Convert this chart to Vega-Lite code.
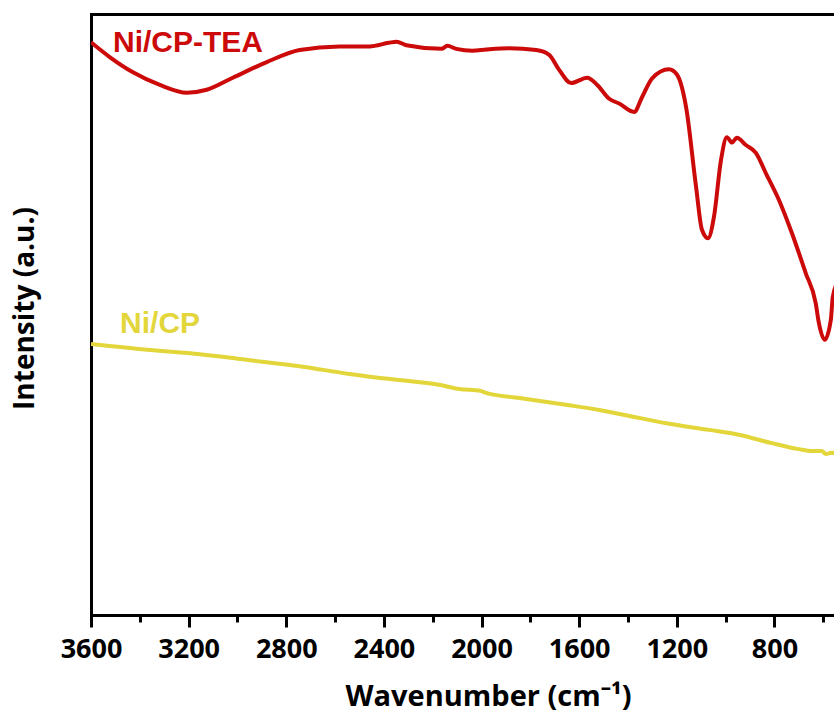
{
  "$schema": "https://vega.github.io/schema/vega-lite/v6.json",
  "width": 743,
  "height": 601,
  "autosize": "none",
  "padding": {"left": 91, "top": 14, "right": 0, "bottom": 102},
  "background": "white",
  "config": {"view": {"stroke": null}},
  "datasets": {
    "spectra": [
      {"series": "Ni/CP-TEA", "wavenumber": 3600, "intensity": 95.3},
      {"series": "Ni/CP-TEA", "wavenumber": 3522, "intensity": 92.8},
      {"series": "Ni/CP-TEA", "wavenumber": 3428, "intensity": 90.3},
      {"series": "Ni/CP-TEA", "wavenumber": 3318, "intensity": 88.2},
      {"series": "Ni/CP-TEA", "wavenumber": 3207, "intensity": 86.9},
      {"series": "Ni/CP-TEA", "wavenumber": 3126, "intensity": 87.4},
      {"series": "Ni/CP-TEA", "wavenumber": 3019, "intensity": 89.4},
      {"series": "Ni/CP-TEA", "wavenumber": 2880, "intensity": 92.0},
      {"series": "Ni/CP-TEA", "wavenumber": 2745, "intensity": 94.0},
      {"series": "Ni/CP-TEA", "wavenumber": 2582, "intensity": 94.6},
      {"series": "Ni/CP-TEA", "wavenumber": 2459, "intensity": 94.6},
      {"series": "Ni/CP-TEA", "wavenumber": 2380, "intensity": 95.2},
      {"series": "Ni/CP-TEA", "wavenumber": 2348, "intensity": 95.4},
      {"series": "Ni/CP-TEA", "wavenumber": 2308, "intensity": 94.8},
      {"series": "Ni/CP-TEA", "wavenumber": 2164, "intensity": 94.2},
      {"series": "Ni/CP-TEA", "wavenumber": 2140, "intensity": 94.7},
      {"series": "Ni/CP-TEA", "wavenumber": 2103, "intensity": 94.2},
      {"series": "Ni/CP-TEA", "wavenumber": 2038, "intensity": 93.9},
      {"series": "Ni/CP-TEA", "wavenumber": 1980, "intensity": 94.1},
      {"series": "Ni/CP-TEA", "wavenumber": 1886, "intensity": 94.3},
      {"series": "Ni/CP-TEA", "wavenumber": 1776, "intensity": 94.0},
      {"series": "Ni/CP-TEA", "wavenumber": 1723, "intensity": 93.2},
      {"series": "Ni/CP-TEA", "wavenumber": 1682, "intensity": 90.7},
      {"series": "Ni/CP-TEA", "wavenumber": 1633, "intensity": 88.5},
      {"series": "Ni/CP-TEA", "wavenumber": 1567, "intensity": 89.4},
      {"series": "Ni/CP-TEA", "wavenumber": 1526, "intensity": 88.2},
      {"series": "Ni/CP-TEA", "wavenumber": 1477, "intensity": 85.9},
      {"series": "Ni/CP-TEA", "wavenumber": 1436, "intensity": 85.1},
      {"series": "Ni/CP-TEA", "wavenumber": 1375, "intensity": 83.7},
      {"series": "Ni/CP-TEA", "wavenumber": 1342, "intensity": 86.2},
      {"series": "Ni/CP-TEA", "wavenumber": 1301, "intensity": 89.3},
      {"series": "Ni/CP-TEA", "wavenumber": 1232, "intensity": 90.8},
      {"series": "Ni/CP-TEA", "wavenumber": 1199, "intensity": 89.9},
      {"series": "Ni/CP-TEA", "wavenumber": 1162, "intensity": 84.5},
      {"series": "Ni/CP-TEA", "wavenumber": 1121, "intensity": 71.2},
      {"series": "Ni/CP-TEA", "wavenumber": 1097, "intensity": 64.1},
      {"series": "Ni/CP-TEA", "wavenumber": 1072, "intensity": 62.7},
      {"series": "Ni/CP-TEA", "wavenumber": 1048, "intensity": 66.2},
      {"series": "Ni/CP-TEA", "wavenumber": 1019, "intensity": 75.7},
      {"series": "Ni/CP-TEA", "wavenumber": 995, "intensity": 79.5},
      {"series": "Ni/CP-TEA", "wavenumber": 974, "intensity": 78.6},
      {"series": "Ni/CP-TEA", "wavenumber": 954, "intensity": 79.4},
      {"series": "Ni/CP-TEA", "wavenumber": 917, "intensity": 78.2},
      {"series": "Ni/CP-TEA", "wavenumber": 876, "intensity": 76.9},
      {"series": "Ni/CP-TEA", "wavenumber": 835, "intensity": 73.5},
      {"series": "Ni/CP-TEA", "wavenumber": 782, "intensity": 69.1},
      {"series": "Ni/CP-TEA", "wavenumber": 729, "intensity": 63.6},
      {"series": "Ni/CP-TEA", "wavenumber": 672, "intensity": 56.9},
      {"series": "Ni/CP-TEA", "wavenumber": 631, "intensity": 51.9},
      {"series": "Ni/CP-TEA", "wavenumber": 618, "intensity": 48.6},
      {"series": "Ni/CP-TEA", "wavenumber": 594, "intensity": 45.8},
      {"series": "Ni/CP-TEA", "wavenumber": 569, "intensity": 49.1},
      {"series": "Ni/CP-TEA", "wavenumber": 561, "intensity": 52.9},
      {"series": "Ni/CP-TEA", "wavenumber": 537, "intensity": 55.7},
      {"series": "Ni/CP", "wavenumber": 3600, "intensity": 45.1},
      {"series": "Ni/CP", "wavenumber": 3359, "intensity": 44.1},
      {"series": "Ni/CP", "wavenumber": 3154, "intensity": 43.4},
      {"series": "Ni/CP", "wavenumber": 2950, "intensity": 42.4},
      {"series": "Ni/CP", "wavenumber": 2745, "intensity": 41.4},
      {"series": "Ni/CP", "wavenumber": 2541, "intensity": 40.1},
      {"series": "Ni/CP", "wavenumber": 2406, "intensity": 39.4},
      {"series": "Ni/CP", "wavenumber": 2357, "intensity": 39.2},
      {"series": "Ni/CP", "wavenumber": 2173, "intensity": 38.3},
      {"series": "Ni/CP", "wavenumber": 2091, "intensity": 37.6},
      {"series": "Ni/CP", "wavenumber": 2005, "intensity": 37.3},
      {"series": "Ni/CP", "wavenumber": 1985, "intensity": 37.0},
      {"series": "Ni/CP", "wavenumber": 1845, "intensity": 36.1},
      {"series": "Ni/CP", "wavenumber": 1641, "intensity": 34.9},
      {"series": "Ni/CP", "wavenumber": 1518, "intensity": 34.1},
      {"series": "Ni/CP", "wavenumber": 1355, "intensity": 32.8},
      {"series": "Ni/CP", "wavenumber": 1244, "intensity": 31.9},
      {"series": "Ni/CP", "wavenumber": 1068, "intensity": 30.8},
      {"series": "Ni/CP", "wavenumber": 946, "intensity": 30.0},
      {"series": "Ni/CP", "wavenumber": 811, "intensity": 28.6},
      {"series": "Ni/CP", "wavenumber": 700, "intensity": 27.6},
      {"series": "Ni/CP", "wavenumber": 647, "intensity": 27.3},
      {"series": "Ni/CP", "wavenumber": 606, "intensity": 27.3},
      {"series": "Ni/CP", "wavenumber": 590, "intensity": 26.8},
      {"series": "Ni/CP", "wavenumber": 565, "intensity": 27.0},
      {"series": "Ni/CP", "wavenumber": 540, "intensity": 26.6}
    ],
    "labels": [
      {"series": "Ni/CP-TEA", "wavenumber": 3510, "intensity": 93.7},
      {"series": "Ni/CP", "wavenumber": 3481, "intensity": 46.9}
    ]
  },
  "resolve": {"axis": {"x": "independent"}},
  "layer": [
    {
      "data": {"name": "spectra"},
      "mark": {"type": "line", "strokeWidth": 4, "clip": true, "strokeJoin": "round", "interpolate": "monotone"},
      "encoding": {
        "x": {
          "field": "wavenumber", "type": "quantitative",
          "scale": {"domain": [3600, 556], "nice": false, "zero": false},
          "axis": {
            "orient": "bottom",
            "values": [3600, 3200, 2800, 2400, 2000, 1600, 1200, 800],
            "format": "d",
            "title": "Wavenumber (cm⁻¹)",
            "titleFont": "Open Sans", "titleFontSize": 29, "titleFontWeight": "bold", "titleColor": "black",
            "titleX": 397, "titleY": 90, "titleBaseline": "alphabetic",
            "labelFont": "Open Sans", "labelFontSize": 27, "labelFontWeight": "bold", "labelColor": "black",
            "labelPadding": 9, "labelFlush": false, "labelOverlap": false,
            "domainColor": "black", "domainWidth": 3, "domainCap": "square",
            "tickColor": "black", "tickWidth": 3, "tickSize": 12,
            "grid": false
          }
        },
        "y": {
          "field": "intensity", "type": "quantitative",
          "scale": {"domain": [0, 100], "nice": false, "zero": false},
          "axis": {
            "title": "Intensity (a.u.)",
            "titleFont": "Open Sans", "titleFontSize": 28, "titleFontWeight": "bold", "titleColor": "black",
            "titleX": -58, "titleY": 294, "titleBaseline": "alphabetic", "titleAngle": -90,
            "labels": false, "ticks": false, "grid": false,
            "domainColor": "black", "domainWidth": 3, "domainCap": "square"
          }
        },
        "color": {
          "field": "series", "type": "nominal",
          "scale": {"domain": ["Ni/CP-TEA", "Ni/CP"], "range": ["#cc0a0a", "#e2d63a"]},
          "legend": null
        }
      }
    },
    {
      "data": {"name": "labels"},
      "mark": {"type": "text", "font": "Liberation Sans", "fontSize": 30, "fontWeight": "bold", "align": "left", "baseline": "alphabetic"},
      "encoding": {
        "x": {
          "field": "wavenumber", "type": "quantitative",
          "scale": {"domain": [3600, 556], "nice": false, "zero": false},
          "axis": {
            "orient": "bottom",
            "values": [3400, 3000, 2600, 2200, 1800, 1400, 1000, 600],
            "labels": false, "domain": false, "title": null, "grid": false,
            "tickColor": "black", "tickWidth": 3, "tickSize": 7
          }
        },
        "y": {"field": "intensity", "type": "quantitative", "scale": {"domain": [0, 100], "nice": false, "zero": false}},
        "text": {"field": "series"},
        "color": {
          "field": "series", "type": "nominal",
          "scale": {"domain": ["Ni/CP-TEA", "Ni/CP"], "range": ["#cc0a0a", "#e2d63a"]},
          "legend": null
        }
      }
    },
    {
      "data": {"name": "labels"},
      "mark": {"type": "point", "opacity": 0},
      "encoding": {
        "x": {
          "field": "wavenumber", "type": "quantitative",
          "scale": {"domain": [3600, 556], "nice": false, "zero": false},
          "axis": {
            "orient": "top",
            "labels": false, "ticks": false, "title": null, "grid": false,
            "domainColor": "black", "domainWidth": 3, "domainCap": "square"
          }
        },
        "y": {"field": "intensity", "type": "quantitative", "scale": {"domain": [0, 100], "nice": false, "zero": false}}
      }
    }
  ]
}
